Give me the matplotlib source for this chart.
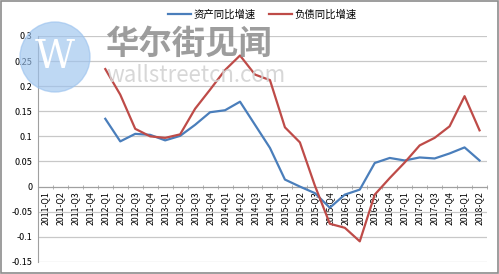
import matplotlib
matplotlib.use("Agg")
import matplotlib.pyplot as plt
from matplotlib.patches import Circle, Rectangle
import numpy as np

plt.rcParams['font.family'] = ['Noto Sans CJK SC', 'DejaVu Sans']

quarters = [f"{y}-Q{q}" for y in range(2011, 2019) for q in range(1, 5)][:30]
# 2011 has no data; series start at 2012-Q1
asset_growth = [None, None, None, None,
                0.135, 0.090, 0.105, 0.103, 0.092, 0.101, 0.123, 0.148,
                0.152, 0.169, 0.123, 0.077, 0.014, 0.000, -0.013, -0.042,
                -0.016, -0.006, 0.047, 0.057, 0.052, 0.058, 0.056, 0.066,
                0.078, 0.052]
debt_growth = [None, None, None, None,
               0.234, 0.183, 0.115, 0.100, 0.097, 0.104, 0.155, 0.193,
               0.232, 0.261, 0.223, 0.212, 0.118, 0.088, 0.002, -0.074,
               -0.082, -0.109, -0.016, 0.017, 0.048, 0.082, 0.097, 0.120,
               0.180, 0.112]
yticks = [-0.15, -0.1, -0.05, 0, 0.05, 0.1, 0.15, 0.2, 0.25, 0.3]
ytick_labels = ["-0.15", "-0.1", "-0.05", "0", "0.05", "0.1", "0.15", "0.2", "0.25", "0.3"]

BLUE, RED = "#4A7EBB", "#BE4B48"

fig = plt.figure(figsize=(4.99, 2.74), dpi=100)
fig.patches.append(Rectangle((0.002, 0.004), 0.996, 0.992, transform=fig.transFigure,
                             fill=False, edgecolor="#8c8c8c", lw=1.2))
ax = fig.add_axes([0.076, 0.044, 0.900, 0.825])

x = np.arange(len(quarters))
a = np.array([np.nan if v is None else v for v in asset_growth])
d = np.array([np.nan if v is None else v for v in debt_growth])
ax.plot(x, a, color=BLUE, lw=1.6, label="资产同比增速", zorder=3)
ax.plot(x, d, color=RED, lw=1.6, label="负债同比增速", zorder=3)

ax.set_xlim(-0.5, len(quarters) - 0.5)
ax.set_ylim(-0.15, 0.3)
ax.set_yticks(yticks)
ax.set_yticklabels(ytick_labels, fontsize=6.5)
ax.yaxis.grid(True, color="#c8c8c8", lw=0.9)
ax.set_axisbelow(True)
ax.tick_params(axis="y", length=0, pad=4)

ax.spines["bottom"].set_position(("data", 0))
ax.spines["bottom"].set_color("#a0a0a0")
ax.spines["left"].set_color("#a0a0a0")
ax.spines["top"].set_visible(False)
ax.spines["right"].set_visible(False)
ax.set_xticks(x)
ax.set_xticklabels(quarters, rotation=90, fontsize=6.3)
ax.tick_params(axis="x", length=0, pad=3)
ax.set_xticks(np.arange(len(quarters) + 1) - 0.5, minor=True)
ax.tick_params(axis="x", which="minor", length=3, direction="inout", color="#a0a0a0")

ax.legend(loc="lower center", bbox_to_anchor=(0.5, 1.03), ncol=2, frameon=False,
          fontsize=7.5, handlelength=2.2, columnspacing=1.3, handletextpad=0.2)

# watermark (positions in inches from the bottom-left corner)
H = 2.74
fig.patches.append(Circle((0.55, H - 0.57), 0.35, transform=fig.dpi_scale_trans,
                          color="#9cc3ee", alpha=0.65, zorder=0))
fig.text(55 / 499, 1 - 58 / 274, "W", fontsize=28, color="white", ha="center",
         va="center", family="DejaVu Serif", zorder=1)
fig.text(105 / 499, 1 - 44 / 274, "华尔街见闻", fontsize=24, color="#8c8c8c",
         ha="left", va="center", alpha=0.85, fontweight="bold", zorder=1)
fig.text(106 / 499, 1 - 76 / 274, "wallstreetcn.com", fontsize=16, color="#d3d3d3",
         ha="left", va="center", alpha=0.9, zorder=1)

fig.savefig("out.png", dpi=100)
